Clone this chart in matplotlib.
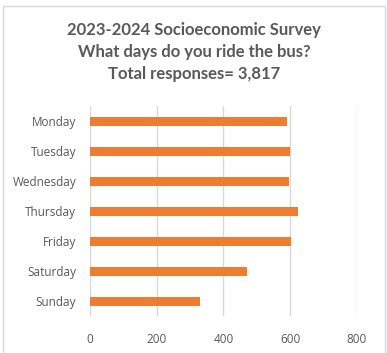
import matplotlib.pyplot as plt
from matplotlib.patches import Rectangle

days = ["Monday", "Tuesday", "Wednesday", "Thursday", "Friday", "Saturday", "Sunday"]
riders = [591, 601, 598, 624, 602, 471, 330]
x_ticks = [0, 200, 400, 600, 800]
title_lines = [
    "2023-2024 Socioeconomic Survey",
    "What days do you ride the bus?",
    "Total responses= 3,817",
]

text_gray = "#595959"
grid_gray = "#d9d9d9"
bar_orange = "#ed7d31"

fig = plt.figure(figsize=(3.87, 3.53), dpi=100)
W, H = 387, 353

# chart frame
fig.patches.append(Rectangle((3 / W, -0.01), 382 / W, 1 - 6 / H + 0.01,
                             transform=fig.transFigure, fill=False,
                             edgecolor=grid_gray, linewidth=1))

for i, line in enumerate(title_lines):
    fig.text(194 / W, 1 - (30 + 22 * i) / H, line, ha="center", va="center",
             fontsize=12, fontweight="bold", color=text_gray, family="Lato")

ax = fig.add_axes([90 / W, 1 - 316 / H, (356.7 - 90) / W, 210 / H])
y = list(range(len(days)))
ax.barh(y, riders, height=0.3, color=bar_orange, zorder=3)
ax.set_ylim(len(days) - 0.5, -0.5)
ax.set_xlim(0, 800)
ax.set_yticks(y)
ax.set_yticklabels(days)
ax.set_xticks(x_ticks)
ax.set_xticklabels([str(t) for t in x_ticks])
ax.grid(axis="x", color=grid_gray, linewidth=1, zorder=0)
for side in ["top", "right", "bottom", "left"]:
    ax.spines[side].set_visible(False)
ax.tick_params(length=0, labelsize=9, labelcolor=text_gray)
ax.tick_params(axis="y", pad=10)
ax.tick_params(axis="x", pad=12)
for lbl in ax.get_xticklabels() + ax.get_yticklabels():
    lbl.set_family("Open Sans")
    lbl.set_fontsize(8.5)

fig.savefig("out.png", dpi=100)
